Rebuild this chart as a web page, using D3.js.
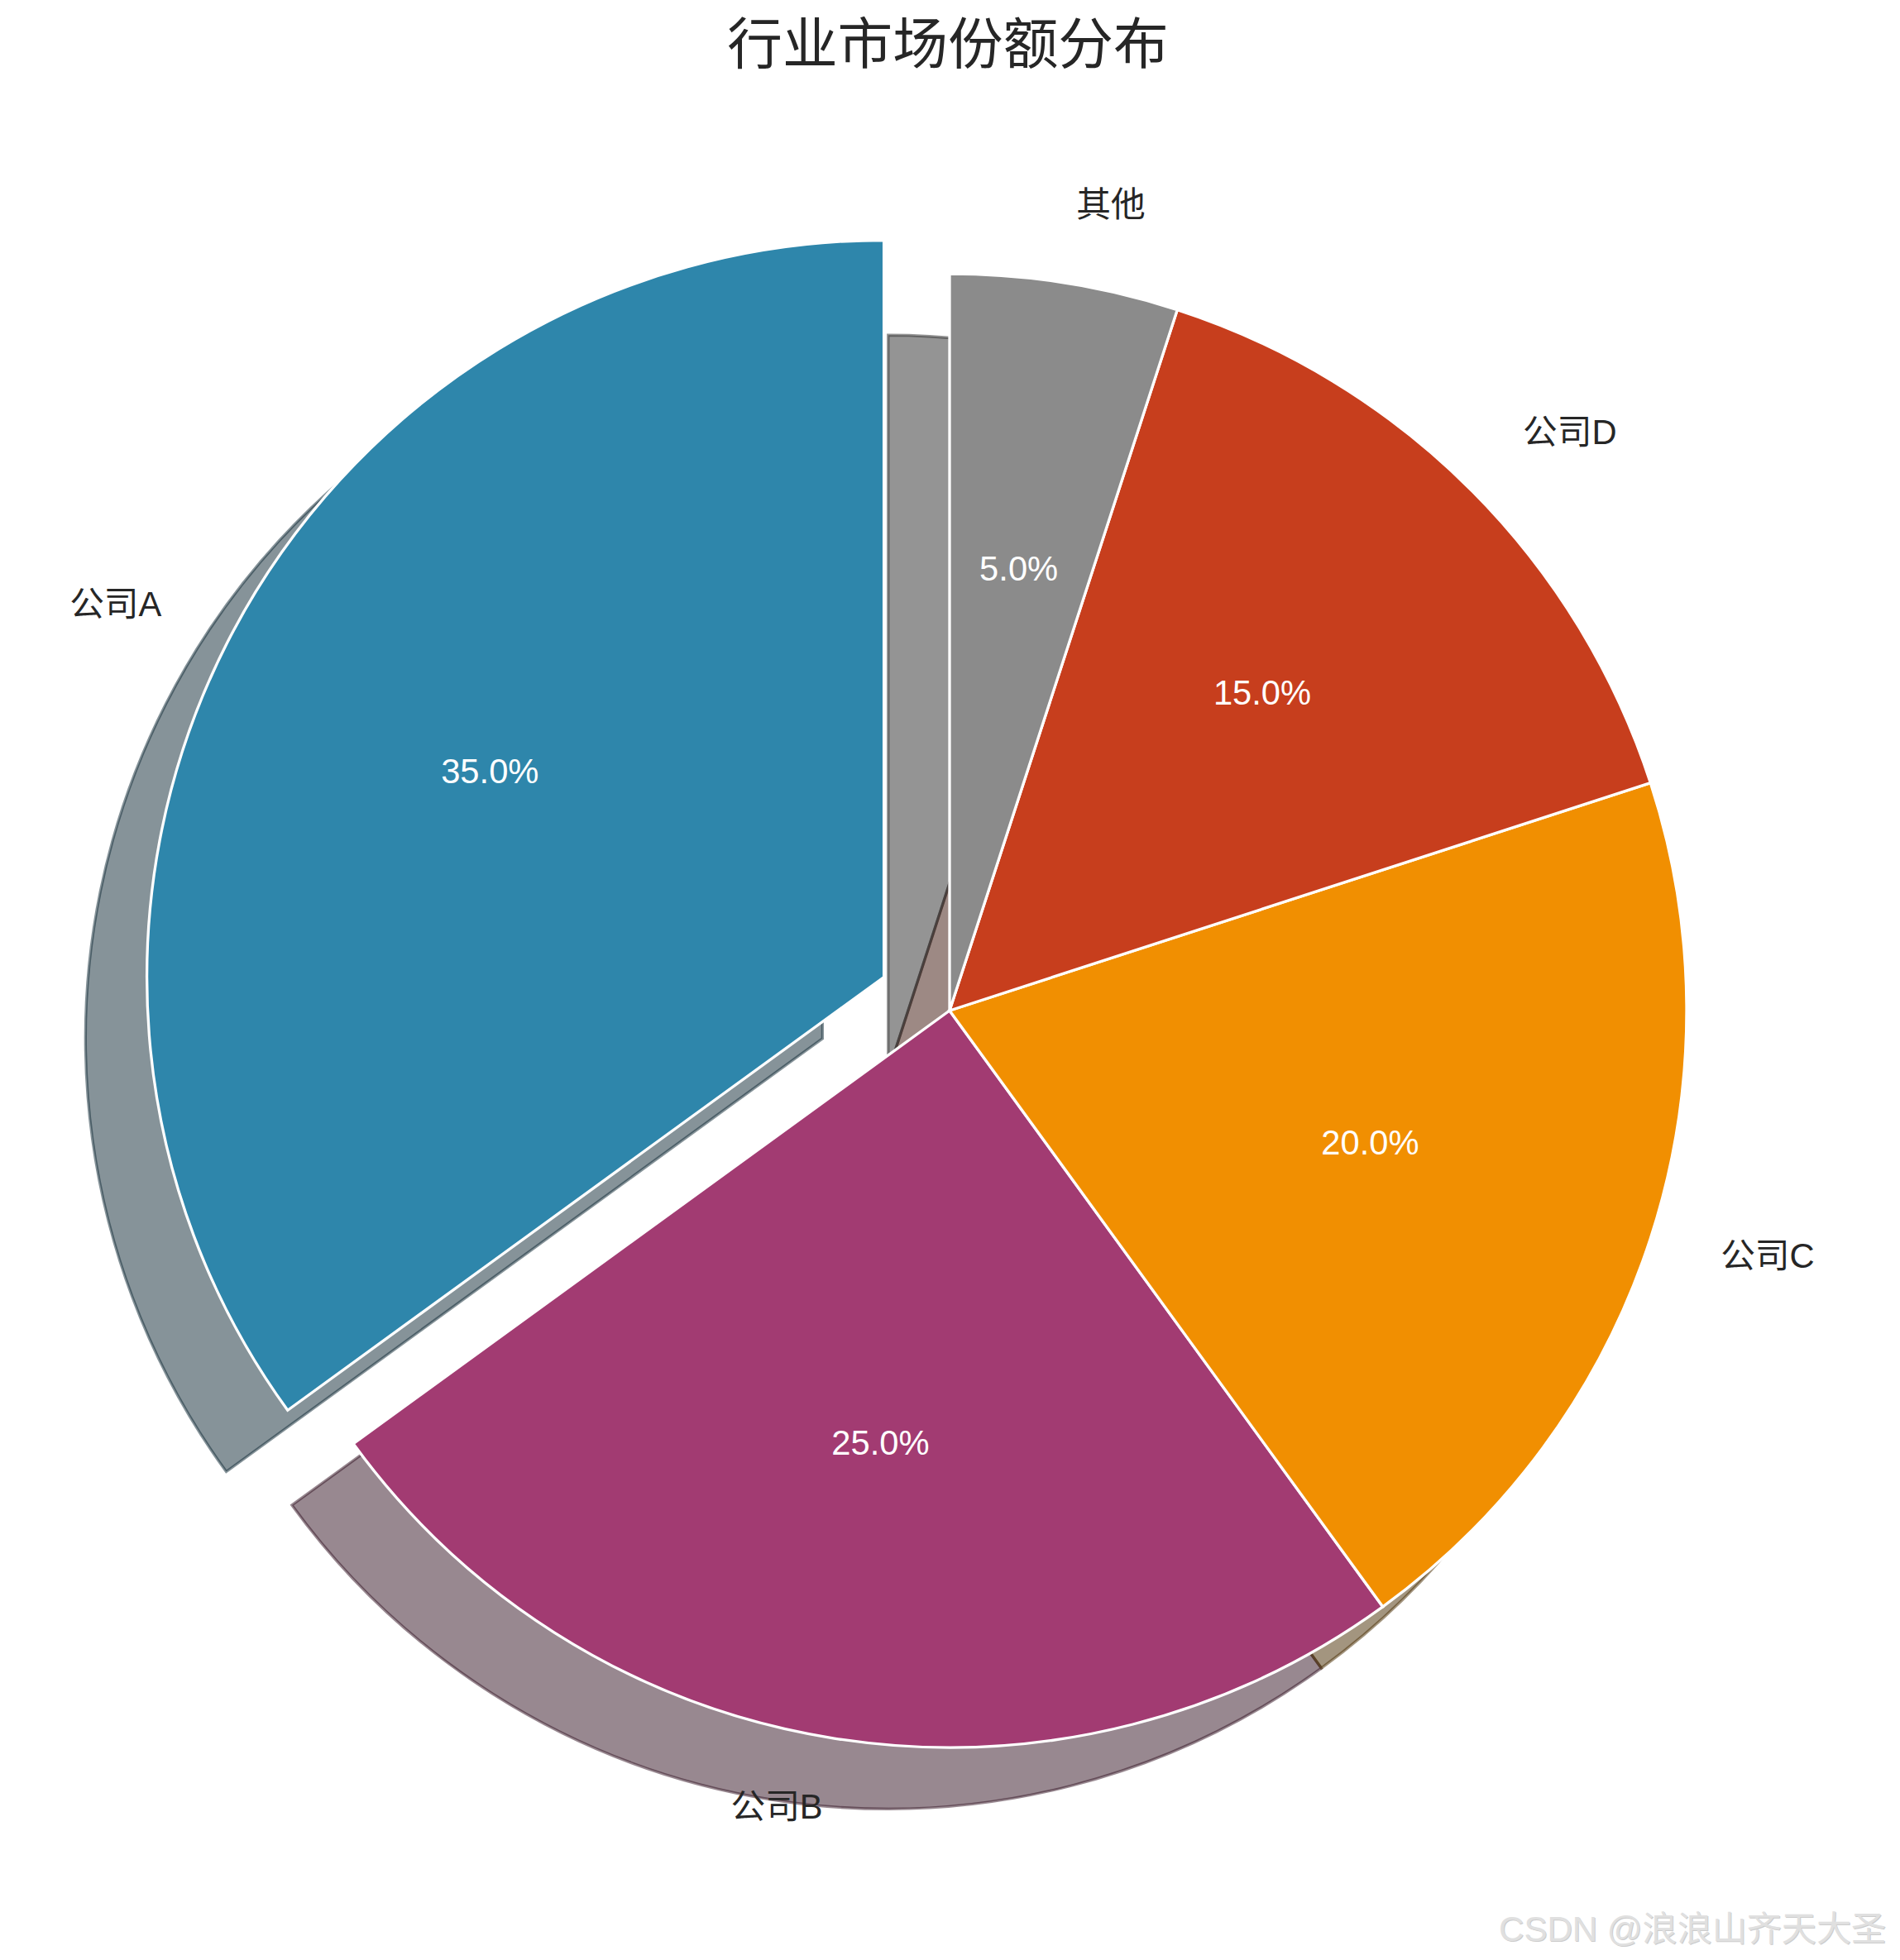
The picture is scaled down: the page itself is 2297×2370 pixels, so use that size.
<!DOCTYPE html>
<html>
<head>
<meta charset="utf-8">
<script src="https://cdn.jsdelivr.net/npm/d3@7"></script>
<style>
  html, body { margin: 0; padding: 0; background: #ffffff; }
  svg { display: block; }
</style>
</head>
<body>
<svg id="chart" width="2297" height="2370"></svg>
<script>
// ---- data ----
const categories = ['公司A', '公司B', '公司C', '公司D', '其他'];
const shares = [35, 25, 20, 15, 5];
const explode = [0.1, 0, 0, 0, 0];
const sliceColors = ['#2E86AB', '#A23B72', '#F18F01', '#C73E1D', '#8B8B8B'];
const titleText = '行业市场份额分布';
const watermarkText = 'CSDN @浪浪山齐天大圣';

// ---- layout ----
const W = 2297, H = 2370;
const cx = 1148, cy = 1222, R = 891;
const shadowOffset = 0.02 * 300 / 72; // data units (matplotlib shadow at 300 dpi)
const labelFont = 41.7, titleFont = 66.7;
const textColor = '#262626';

const svg = d3.select('#chart');
svg.append('rect').attr('width', W).attr('height', H).attr('fill', '#ffffff');

const rScale = d3.scaleLinear().domain([0, 1]).range([0, R]);

const pie = d3.pie().value(d => d).sort(null)
  .startAngle(0).endAngle(-2 * Math.PI);   // start at 12 o'clock, counter-clockwise
const arcs = pie(shares);
const arcGen = d3.arc().innerRadius(0).outerRadius(rScale(1));

const slices = arcs.map((a, i) => {
  const mid = (a.startAngle + a.endAngle) / 2;
  const off = rScale(explode[i]);
  return {
    arc: a, i, mid,
    ox: off * Math.sin(mid),
    oy: -off * Math.cos(mid)
  };
});

const g = svg.append('g').attr('transform', `translate(${cx},${cy})`);
const so = rScale(shadowOffset);

// shadows (all drawn below the wedges)
g.append('g').selectAll('path.shadow').data(slices).join('path')
  .attr('class', 'shadow')
  .attr('d', d => arcGen(d.arc))
  .attr('transform', d => `translate(${d.ox - so},${d.oy + so})`)
  .each(function (d) {
    const c = d3.rgb(sliceColors[d.i]);
    const sc = d3.rgb(c.r * 0.3, c.g * 0.3, c.b * 0.3).formatHex();
    d3.select(this)
      .attr('fill', sc).attr('fill-opacity', 0.5)
      .attr('stroke', sc).attr('stroke-opacity', 0.5)
      .attr('stroke-width', 3.3).attr('stroke-linejoin', 'miter');
  });

// wedges
g.append('g').selectAll('path.wedge').data(slices).join('path')
  .attr('class', 'wedge')
  .attr('d', d => arcGen(d.arc))
  .attr('transform', d => `translate(${d.ox},${d.oy})`)
  .attr('fill', d => sliceColors[d.i])
  .attr('stroke', '#ffffff')
  .attr('stroke-width', 3.3)
  .attr('stroke-linejoin', 'miter');

// category labels (labeldistance 1.1)
g.append('g').selectAll('text.lbl').data(slices).join('text')
  .attr('class', 'lbl')
  .each(function (d) {
    const x = d.ox + rScale(1.1) * Math.sin(d.mid);
    const y = d.oy - rScale(1.1) * Math.cos(d.mid);
    d3.select(this)
      .attr('x', x).attr('y', y + 8.5)
      .attr('text-anchor', x > 0 ? 'start' : 'end');
  })
  .attr('font-family', '"Liberation Sans", "Noto Sans CJK SC", sans-serif')
  .attr('font-size', labelFont)
  .attr('fill', textColor)
  .text(d => categories[d.i]);

// percentage labels (pctdistance 0.6)
const fmt = d3.format('.1f');
g.append('g').selectAll('text.pct').data(slices).join('text')
  .attr('class', 'pct')
  .attr('x', d => d.ox + rScale(0.6) * Math.sin(d.mid))
  .attr('y', d => d.oy - rScale(0.6) * Math.cos(d.mid) + 8.5)
  .attr('text-anchor', 'middle')
  .attr('font-family', '"Liberation Sans", "Noto Sans CJK SC", sans-serif')
  .attr('font-size', labelFont)
  .attr('fill', '#ffffff')
  .text(d => fmt(shares[d.i]) + '%');

// title
svg.append('text')
  .attr('x', 1146).attr('y', 77)
  .attr('text-anchor', 'middle')
  .attr('font-family', '"Noto Sans CJK SC", sans-serif')
  .attr('font-size', titleFont)
  .attr('fill', textColor)
  .text(titleText);

// watermark
const wm = svg.append('g');
wm.append('text')
  .attr('x', 1813).attr('y', 2348)
  .attr('font-family', '"Liberation Sans Narrow", "Liberation Sans", "Noto Sans CJK SC", sans-serif')
  .attr('font-size', 42)
  .attr('textLength', 468).attr('lengthAdjust', 'spacingAndGlyphs')
  .attr('fill', '#cccccc')
  .text(watermarkText);
wm.append('text')
  .attr('x', 1812).attr('y', 2347)
  .attr('font-family', '"Liberation Sans Narrow", "Liberation Sans", "Noto Sans CJK SC", sans-serif')
  .attr('font-size', 42)
  .attr('textLength', 468).attr('lengthAdjust', 'spacingAndGlyphs')
  .attr('fill', '#e0e0e0')
  .text(watermarkText);
</script>
</body>
</html>
